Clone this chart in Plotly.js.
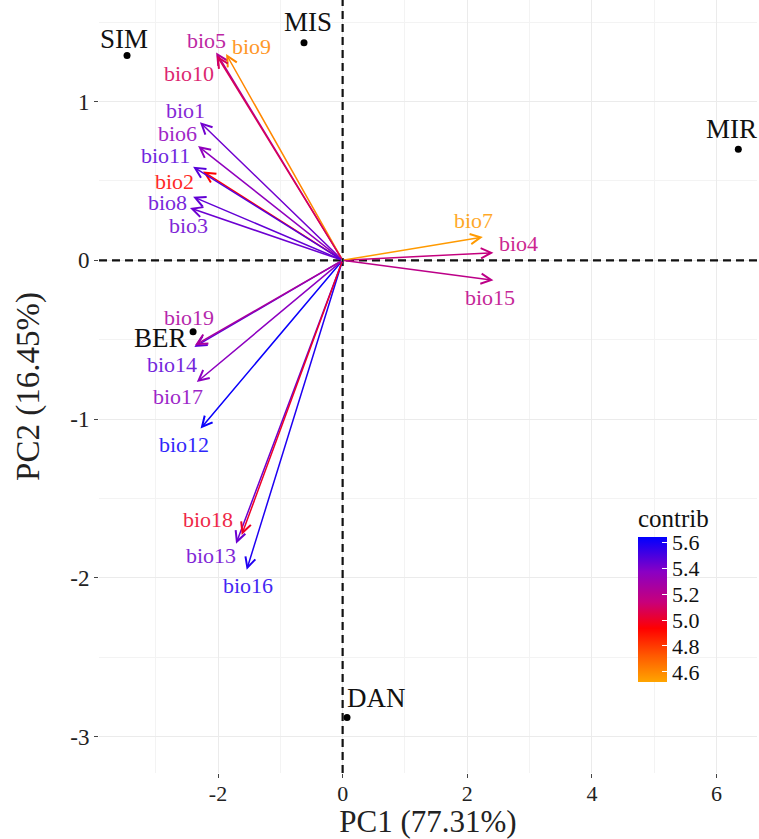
<!DOCTYPE html>
<html>
<head>
<meta charset="utf-8">
<script src="https://cdn.plot.ly/plotly-3.0.1.min.js"></script>
<style>html,body{margin:0;padding:0;background:#fff;}#chart{width:759px;height:839px;}</style>
</head>
<body>
<div id="chart"></div>
<script>
// Individuals (sites)
const siteNames = ["SIM", "MIS", "MIR", "BER", "DAN"];
const siteX = [-3.46, -0.62, 6.35, -2.40, 0.07];
const siteY = [1.29, 1.37, 0.70, -0.45, -2.88];

// Variables (arrows)
const varNames = ["bio1","bio2","bio3","bio4","bio5","bio6","bio7","bio8","bio9","bio10",
                  "bio11","bio12","bio13","bio14","bio15","bio16","bio17","bio18","bio19"];
const varX = [-2.29, -2.24, -2.45, 2.42, -2.03, -2.32, 2.25, -2.40, -1.87, -2.02,
              -2.40, -2.28, -1.71, -2.38, 2.42, -1.54, -2.34, -1.62, -2.37];
const varY = [0.87, 0.56, 0.33, 0.048, 1.31, 0.72, 0.147, 0.40, 1.30, 1.29,
              0.59, -1.06, -1.785, -0.546, -0.126, -1.95, -0.767, -1.73, -0.535];
const contrib = [5.42, 4.93, 5.43, 5.15, 5.22, 5.35, 4.55, 5.45, 4.60, 5.08,
                 5.47, 5.62, 5.43, 5.46, 5.18, 5.58, 5.36, 5.00, 5.25];

// colour scale tick labels
const cbTicks = [4.6, 4.8, 5.0, 5.2, 5.4, 5.6];

// ---------- styling (not data) ----------
const FONT = "Liberation Serif";
const cmin = 4.52, cmax = 5.64;
const cscale = [[0, "#FFA500"], [0.18, "#FF5A00"], [0.37, "#FF0000"], [0.55, "#C8007A"], [0.76, "#8A00C4"], [1, "#0000FF"]];
// label pixel offsets (dx right, dy down) for repelled text
const varLabelOffset = {
  bio1:[-14,-12], bio2:[-29,10], bio3:[-1,18], bio4:[25,-9], bio5:[-10,-12], bio6:[-21,-13],
  bio7:[-9,-16], bio8:[-26,6], bio9:[25,-7], bio10:[-28,18], bio11:[-28,-11], bio12:[-17,16],
  bio13:[-25,12], bio14:[-22,18], bio15:[-3,17], bio16:[1,16], bio17:[-19,14], bio18:[-34,-15], bio19:[-6,-28]
};
const siteLabelOffset = { SIM:[-3,-17], MIS:[4,-21], MIR:[-7,-20], BER:[-33,6], DAN:[29,-19] };

function hex2rgb(h){ h=h.replace('#',''); return [parseInt(h.substr(0,2),16),parseInt(h.substr(2,2),16),parseInt(h.substr(4,2),16)]; }
function colorFor(v){
  let t = (v - cmin) / (cmax - cmin); t = Math.max(0, Math.min(1, t));
  for (let i = 0; i < cscale.length - 1; i++) {
    const a = cscale[i], b = cscale[i+1];
    if (t >= a[0] && t <= b[0]) {
      const f = (t - a[0]) / (b[0] - a[0]);
      const ca = hex2rgb(a[1]), cb = hex2rgb(b[1]);
      const c = ca.map((x, k) => Math.round(x + (cb[k] - x) * f));
      return `rgb(${c[0]},${c[1]},${c[2]})`;
    }
  }
  return cscale[cscale.length-1][1];
}

const traces = [
  { // site points
    type: "scatter", mode: "markers", x: siteX, y: siteY,
    marker: { color: "#000", size: 7 }, hoverinfo: "text", text: siteNames, showlegend: false
  },
  { // invisible trace to carry the colour bar
    type: "scatter", mode: "markers", x: varX, y: varY, hoverinfo: "skip", showlegend: false,
    marker: {
      size: 1, opacity: 0, color: contrib, colorscale: cscale, cmin: cmin, cmax: cmax, showscale: true,
      colorbar: {
        title: { text: "contrib", side: "top", font: { family: FONT, size: 25, color: "#111" } },
        x: 0.819, xanchor: "left", xpad: 0, y: 0.232, yanchor: "middle",
        lenmode: "pixels", len: 177, thickness: 29, outlinewidth: 0,
        tickmode: "array", tickvals: cbTicks, ticktext: cbTicks.map(v => v.toFixed(1)),
        ticks: "inside", ticklen: 5, tickcolor: "#fff", tickwidth: 1,
        tickfont: { family: FONT, size: 22, color: "#111" }, ypad: 0
      }
    }
  }
];

const annotations = [];
varNames.forEach((n, i) => {
  const col = colorFor(contrib[i]);
  annotations.push({
    x: varX[i], y: varY[i], xref: "x", yref: "y", ax: 0, ay: 0, axref: "x", ayref: "y",
    text: "", showarrow: true, arrowhead: 5, arrowsize: 1.35, arrowwidth: 1.5, arrowcolor: col, standoff: 0
  });
});
varNames.forEach((n, i) => {
  const col = colorFor(contrib[i]);
  const o = varLabelOffset[n];
  annotations.push({
    x: varX[i], y: varY[i], xref: "x", yref: "y", text: n, showarrow: false,
    xshift: o[0], yshift: -o[1], xanchor: "center", yanchor: "middle",
    font: { family: FONT, size: 22, color: col }, opacity: 0.85
  });
});
siteNames.forEach((n, i) => {
  const o = siteLabelOffset[n];
  annotations.push({
    x: siteX[i], y: siteY[i], xref: "x", yref: "y", text: n, showarrow: false,
    xshift: o[0], yshift: -o[1], xanchor: "center", yanchor: "middle",
    font: { family: FONT, size: 27, color: "#111" }
  });
});

const layout = {
  width: 759, height: 839,
  margin: { l: 99, r: 2, t: 0, b: 66 },
  paper_bgcolor: "#fff", plot_bgcolor: "#fff",
  font: { family: FONT, color: "#222" },
  showlegend: false,
  xaxis: {
    range: [-3.91, 6.65], tickvals: [-2, 0, 2, 4, 6], ticktext: ["-2", "0", "2", "4", "6"],
    showgrid: true, gridcolor: "#EBEBEB", gridwidth: 1, zeroline: false, showline: false,
    minor: { tickvals: [-3, -1, 1, 3, 5], showgrid: true, gridcolor: "#F3F3F3", gridwidth: 1, ticks: "" },
    ticks: "outside", ticklen: 4, tickcolor: "#444", tickwidth: 1, ticklabelstandoff: -3,
    tickfont: { family: FONT, size: 22, color: "#222" },
    title: { text: "PC1 (77.31%)", font: { family: FONT, size: 31, color: "#222" }, standoff: 8 }
  },
  yaxis: {
    range: [-3.23, 1.64], tickvals: [-3, -2, -1, 0, 1], ticktext: ["-3", "-2", "-1", "0", "1"],
    showgrid: true, gridcolor: "#EBEBEB", gridwidth: 1, zeroline: false, showline: false,
    minor: { tickvals: [-2.5, -1.5, -0.5, 0.5, 1.5], showgrid: true, gridcolor: "#F3F3F3", gridwidth: 1, ticks: "" },
    ticks: "outside", ticklen: 4, tickcolor: "#444", tickwidth: 1,
    tickfont: { family: FONT, size: 23, color: "#222" },
    title: { text: "PC2 (16.45%)", font: { family: FONT, size: 33, color: "#222" }, standoff: 20 }
  },
  shapes: [
    { type: "line", xref: "paper", yref: "y", x0: 0, x1: 1, y0: 0, y1: 0, line: { color: "#111", width: 2.2, dash: "8px,5px" }, layer: "above" },
    { type: "line", xref: "x", yref: "paper", x0: 0, x1: 0, y0: 0, y1: 1, line: { color: "#111", width: 2.2, dash: "8px,5px" }, layer: "above" }
  ],
  annotations: annotations
};

Plotly.newPlot("chart", traces, layout, { displayModeBar: false, staticPlot: true });
</script>
</body>
</html>
